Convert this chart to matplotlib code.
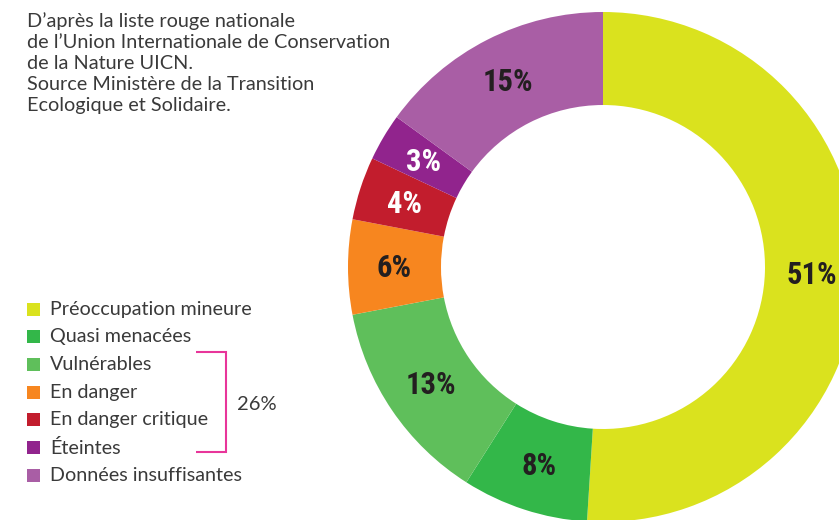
import numpy as np
import matplotlib.pyplot as plt
from matplotlib.patches import Rectangle

# Données (liste rouge UICN)
categories = ["Préoccupation mineure", "Quasi menacées", "Vulnérables", "En danger",
              "En danger critique", "Éteintes", "Données insuffisantes"]
valeurs = [51, 8, 13, 6, 4, 3, 15]
couleurs = ["#DAE21E", "#33B749", "#5FBF5B", "#F7861F", "#C21D2D", "#91248D", "#A95EA5"]
couleurs_texte = ["#231F20", "#231F20", "#231F20", "#231F20", "white", "white", "#231F20"]
total_menacees = "26%"

note = ("D’après la liste rouge nationale\n"
        "de l’Union Internationale de Conservation\n"
        "de la Nature UICN.\n"
        "Source Ministère de la Transition\n"
        "Ecologique et Solidaire.")

W, H = 839, 520
fig = plt.figure(figsize=(W / 100, H / 100), dpi=100)
ax = fig.add_axes([0, 0, 1, 1])

# Anneau
cx, cy = 603, H - 267
r_ext, r_int = 255, 162
wedges, _ = ax.pie(valeurs, colors=couleurs, startangle=90, counterclock=False,
                   center=(cx, cy), radius=r_ext, frame=True,
                   wedgeprops=dict(width=r_ext - r_int, linewidth=0))
ax.set_xlim(0, W)
ax.set_ylim(0, H)
ax.set_aspect("equal")
ax.axis("off")

police_chiffres = ["Roboto Condensed", "Liberation Sans Narrow", "DejaVu Sans"]
r_lab = (r_ext + r_int) / 2
for w, v, tc in zip(wedges, valeurs, couleurs_texte):
    ang = np.deg2rad((w.theta1 + w.theta2) / 2)
    ax.text(cx + r_lab * np.cos(ang), cy + r_lab * np.sin(ang) - 1, f"{v}%",
            ha="center", va="center", fontsize=22, fontweight="bold",
            fontstretch="condensed", color=tc, family=police_chiffres)

# Texte source
ax.text(27, H - 12, note, ha="left", va="top", fontsize=14.3, color="#3a3a3a",
        family="Lato", linespacing=1.29)

# Légende
y0 = 309
pas = 27.7
for i, (cat, col) in enumerate(zip(categories, couleurs)):
    y = H - (y0 + i * pas)
    ax.add_patch(Rectangle((27, y - 6.5), 13, 13, color=col, lw=0))
    ax.text(50, y, cat, ha="left", va="center", fontsize=14.2, color="#3a3a3a", family="Lato")

# Accolade 26 %
rose = "#E8359A"
yt, yb = H - 352, H - 452
ax.plot([196, 226, 226, 196], [yt, yt, yb, yb], color=rose, lw=1.5,
        solid_capstyle="butt", solid_joinstyle="miter")
ax.text(237, H - 404, total_menacees, ha="left", va="center", fontsize=14.5,
        color="#3a3a3a", family="Lato")

fig.savefig("out.png", dpi=100)
